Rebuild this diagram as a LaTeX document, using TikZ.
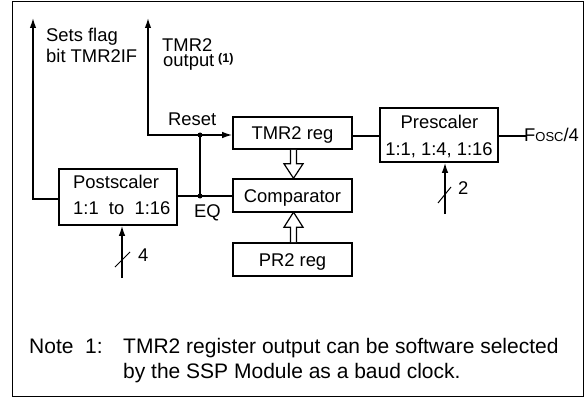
\documentclass[tikz,border=0pt]{standalone}
\usepackage{fontspec}
\setmainfont{Liberation Sans}
\usetikzlibrary{arrows.meta,calc}
\begin{document}
\begin{tikzpicture}[x=1pt,y=-1pt,
  box/.style={draw,line width=1.6pt,inner sep=0pt,text height=13.2pt,text depth=0pt,font=\fontsize{18.4}{22}\selectfont},
  lbl/.style={inner sep=0pt,anchor=base west,font=\fontsize{18.4}{22}\selectfont},
  notelbl/.style={inner sep=0pt,anchor=base west,font=\fontsize{21}{25}\selectfont},
  wire/.style={line width=1.4pt},
  arr/.style={wire,-{Latex[length=10pt,width=6.5pt]}},
  slash/.style={line width=1pt},
  dot/.style={circle,fill,inner sep=0pt,minimum size=5pt},
  hollow/.style={line width=1.2pt,fill=white,line join=miter}]
\useasboundingbox (0,0) rectangle (585,398);
\draw[line width=1.5pt] (12.5,1.5) rectangle (583.5,396.5);

% blocks
\node[box,minimum width=119pt,minimum height=32pt] (tmr) at (292.5,133) {TMR2 reg};
\node[box,minimum width=118pt,minimum height=54pt] (pre) at (439,135) {};
\node[box,minimum width=118pt,minimum height=56pt] (post) at (118,197) {};
\node[box,minimum width=119pt,minimum height=33pt] (cmp) at (292.5,195.5) {Comparator};
\node[box,minimum width=119pt,minimum height=33pt] (pr2) at (292.5,259.5) {PR2 reg};

\node[lbl,anchor=base] (pre1) at (439.5,128.5) {Prescaler};
\node[lbl,anchor=base] (pre2) at (439,155) {1:1, 1:4, 1:16};
\node[lbl] (post1) at (73,188.3) {Postscaler};
\node[lbl] (post2) at (73,214.3) {1:1\ \ to\ \ 1:16};

% coordinates
\coordinate (flagtip) at (33,18);
\coordinate (outtip) at (148,18);
\coordinate (fosc) at (527,136);
\coordinate (pin) at (445,214);
\coordinate (poin) at (122,278);
\node[dot] (jr) at (200,135) {};
\node[dot] (je) at (200,196) {};

% connectors
\draw[arr] ([yshift=-2pt]post.west) -| (flagtip);
\draw[wire] (post.east |- je) -- (je.center) -- (cmp.west |- je);
\draw[wire] (je.center) -- (jr.center);
\draw[arr] (jr.center) -- (tmr.west |- jr);
\draw[arr] (jr.center) -| (outtip);
\draw[wire] ([yshift=-3pt]tmr.east) -- ([yshift=-3pt]tmr.east -| pre.west);
\draw[wire] ([yshift=-1pt]pre.east) -- (fosc);
\draw[arr] (pin) -- (pin |- pre.south);
\draw[arr] (poin) -- (poin |- post.south);
\draw[slash] (438,203) -- (451,187);
\draw[slash] (115,267) -- (130,252);

% hollow bus arrows
\draw[hollow] ($(tmr.south)+(-2,0)$) -- ++(0,14) -- ++(-6.5,0) -- ++(9.5,14.5) -- ++(9.5,-14.5) -- ++(-6.5,0) -- ++(0,-14);
\draw[hollow] ($(pr2.north)+(-2,0)$) -- ++(0,-15) -- ++(-6.5,0) -- ++(9.5,-15) -- ++(9.5,15) -- ++(-6.5,0) -- ++(0,15);

% labels
\node[lbl] (fosclbl) at (524,141.7) {F{\fontsize{13}{13}\selectfont OSC}/4};
\node[lbl] (two) at (458,194.3) {2};
\node[lbl] (four) at (138,261.7) {4};
\node[lbl] (eq) at (194,217.3) {EQ};
\node[lbl] (reset) at (168,126) {Reset};
\node[lbl] (flag1) at (46,41.7) {Sets flag};
\node[lbl] (flag2) at (46,63) {bit TMR2IF};
\node[lbl] (out1) at (162,51.7) {TMR2};
\node[lbl] (out2) at (163,66.7) {output};
\node[inner sep=0pt,anchor=base west,font=\fontsize{12.5}{14}\selectfont\bfseries] (outnote) at (218,62.5) {(1)};

% note
\node[notelbl] (note1) at (29,353) {Note\ \ 1:};
\node[notelbl] (note2) at (123,353) {TMR2 register output can be software selected};
\node[notelbl] (note3) at (123,378) {by the SSP Module as a baud clock.};
\end{tikzpicture}
\end{document}
